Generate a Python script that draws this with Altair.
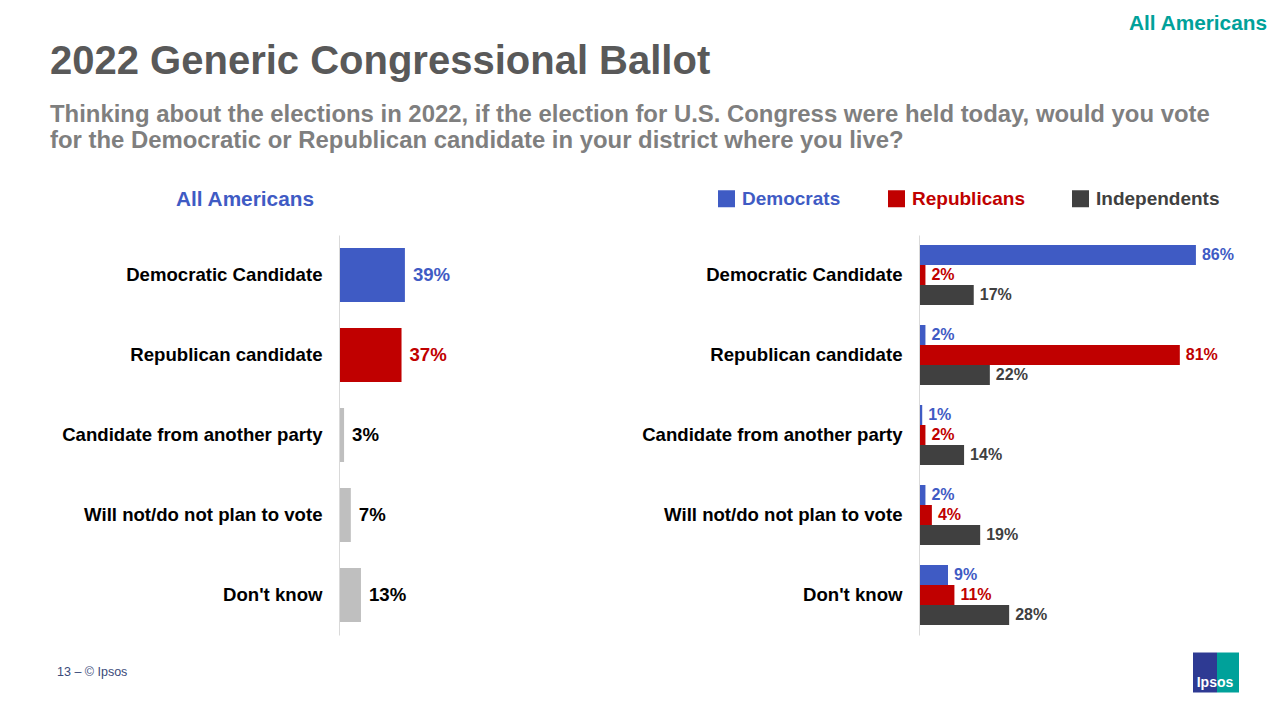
import altair as alt
import pandas as pd

# ---------------- data ----------------
answers = ["Democratic Candidate", "Republican candidate", "Candidate from another party",
           "Will not/do not plan to vote", "Don't know"]
all_americans = [39, 37, 3, 7, 13]
parties = ["Democrats", "Republicans", "Independents"]
democrats = [86, 2, 1, 2, 9]
republicans = [2, 81, 2, 4, 11]
independents = [17, 22, 14, 19, 28]

title_text = "2022 Generic Congressional Ballot"
subtitle_text = ("Thinking about the elections in 2022, if the election for U.S. Congress were held today, would you vote\n"
                 "for the Democratic or Republican candidate in your district where you live?")
corner_text = "All Americans"
left_header = "All Americans"
footer_text = "13 \u2013  \u00a9 Ipsos"
logo_text = "Ipsos"

# ---------------- styles ----------------
FONT = "Arial, Liberation Sans, Helvetica, sans-serif"
BLUE = "#3F5BC4"
RED = "#C00000"
GRAY = "#BFBFBF"
DARK = "#404040"
BLACK = "#000000"
TEAL = "#00A19A"

left_df = pd.DataFrame({"answer": answers, "value": all_americans,
                        "label": [f"{v}%" for v in all_americans]})
rows = []
for p, vals in zip(parties, [democrats, republicans, independents]):
    for a, v in zip(answers, vals):
        rows.append({"answer": a, "party": p, "value": v, "label": f"{v}%"})
right_df = pd.DataFrame(rows)
one = pd.DataFrame({"k": [0]})


def y_axis():
    return alt.Axis(title=None, labelFontSize=18.6, labelFont=FONT, labelFontWeight="bold",
                    labelColor=BLACK, labelPadding=17, ticks=False, domainColor="#D9D9D9",
                    domainWidth=1, labelLimit=500, grid=False, zindex=1)


# ---------------- left panel ----------------
yl = alt.Y("answer:N", sort=answers,
           scale=alt.Scale(domain=answers, paddingInner=0.325, paddingOuter=0.1625),
           axis=y_axis())
xl = alt.X("value:Q", scale=alt.Scale(domain=[0, 100]), axis=None)

bg = alt.Chart(one).mark_rect(fill="white", opacity=0).encode(
    x=alt.value(-331), x2=alt.value(933), y=alt.value(-226.5), y2=alt.value(477.5))

bars_l = alt.Chart(left_df).mark_bar().encode(
    y=yl, x=xl,
    color=alt.Color("answer:N", scale=alt.Scale(domain=answers, range=[BLUE, RED, GRAY, GRAY, GRAY]),
                    legend=None))
text_l = alt.Chart(left_df).mark_text(align="left", baseline="middle", dx=8, fontSize=18.6,
                                      fontWeight="bold", font=FONT).encode(
    y=yl, x=xl, text="label:N",
    fill=alt.Fill("answer:N", scale=alt.Scale(domain=answers, range=[BLUE, RED, BLACK, BLACK, BLACK]),
                  legend=None))

title = alt.Chart(one).mark_text(align="left", baseline="alphabetic", fontSize=40, fontWeight="bold",
                                 font=FONT, color="#595959").encode(
    x=alt.value(-289), y=alt.value(-161), text=alt.value(title_text))
subtitle = alt.Chart(one).mark_text(align="left", baseline="alphabetic", fontSize=23.9, fontWeight="bold",
                                    font=FONT, color="#7F7F7F", lineBreak="\n", lineHeight=26.5).encode(
    x=alt.value(-289), y=alt.value(-113.5), text=alt.value(subtitle_text))
corner = alt.Chart(one).mark_text(align="right", baseline="alphabetic", fontSize=20.8, fontWeight="bold",
                                  font=FONT, color=TEAL).encode(
    x=alt.value(928), y=alt.value(-205.5), text=alt.value(corner_text))
lhead = alt.Chart(one).mark_text(align="center", baseline="alphabetic", fontSize=20.8, fontWeight="bold",
                                 font=FONT, color=BLUE).encode(
    x=alt.value(-94), y=alt.value(-29.5), text=alt.value(left_header))
footer = alt.Chart(one).mark_text(align="left", baseline="alphabetic", fontSize=12.5,
                                  font=FONT, color="#3B4A7A").encode(
    x=alt.value(-282), y=alt.value(441), text=alt.value(footer_text))
logo_b = alt.Chart(one).mark_rect(color="#2E3A93").encode(
    x=alt.value(854), x2=alt.value(878), y=alt.value(417.5), y2=alt.value(457.5))
logo_t = alt.Chart(one).mark_rect(color=TEAL).encode(
    x=alt.value(878), x2=alt.value(900), y=alt.value(417.5), y2=alt.value(457.5))
logo_txt = alt.Chart(one).mark_text(align="center", baseline="alphabetic", fontSize=14, fontWeight="bold",
                                    font=FONT, color="white").encode(
    x=alt.value(876), y=alt.value(451.5), text=alt.value(logo_text))

left = alt.layer(bg, bars_l, text_l, title, subtitle, corner, lhead, footer,
                 logo_b, logo_t, logo_txt).properties(width=169, height=400)

# ---------------- right panel ----------------
yr = alt.Y("answer:N", sort=answers,
           scale=alt.Scale(domain=answers, paddingInner=0.25, paddingOuter=0.125),
           axis=y_axis())
yo = alt.YOffset("party:N", sort=parties, scale=alt.Scale(domain=parties, paddingInner=0, paddingOuter=0))
xr = alt.X("value:Q", scale=alt.Scale(domain=[0, 100]), axis=None)

label_color_expr = (f"datum.value === 'Democrats' ? '{BLUE}' : "
                    f"(datum.value === 'Republicans' ? '{RED}' : '{DARK}')")

bars_r = alt.Chart(right_df).mark_bar().encode(
    y=yr, yOffset=yo, x=xr,
    color=alt.Color("party:N", sort=parties, scale=alt.Scale(domain=parties, range=[BLUE, RED, DARK]),
                    legend=alt.Legend(title=None, orient="none", legendX=-202, legendY=-46,
                                      direction="horizontal", symbolType="square", symbolSize=289,
                                      symbolStrokeWidth=0, labelFontSize=19, labelFontWeight="bold",
                                      labelFont=FONT, labelOffset=6, columnPadding=46,
                                      labelColor=alt.ExprRef(expr=label_color_expr))))
text_r = alt.Chart(right_df).mark_text(align="left", baseline="middle", dx=6, fontSize=16,
                                       fontWeight="bold", font=FONT).encode(
    y=yr, yOffset=yo, x=xr, text="label:N",
    fill=alt.Fill("party:N", sort=parties, scale=alt.Scale(domain=parties, range=[BLUE, RED, DARK]),
                  legend=None))

right = alt.layer(bars_r, text_r).properties(width=322, height=400)

chart = alt.hconcat(left, right, spacing=411, bounds="flush").resolve_scale(
    color="independent", fill="independent"
).properties(padding=0, background="white").configure_view(stroke=None)

chart.save("out.html", embed_options={"renderer": "svg", "actions": False})
